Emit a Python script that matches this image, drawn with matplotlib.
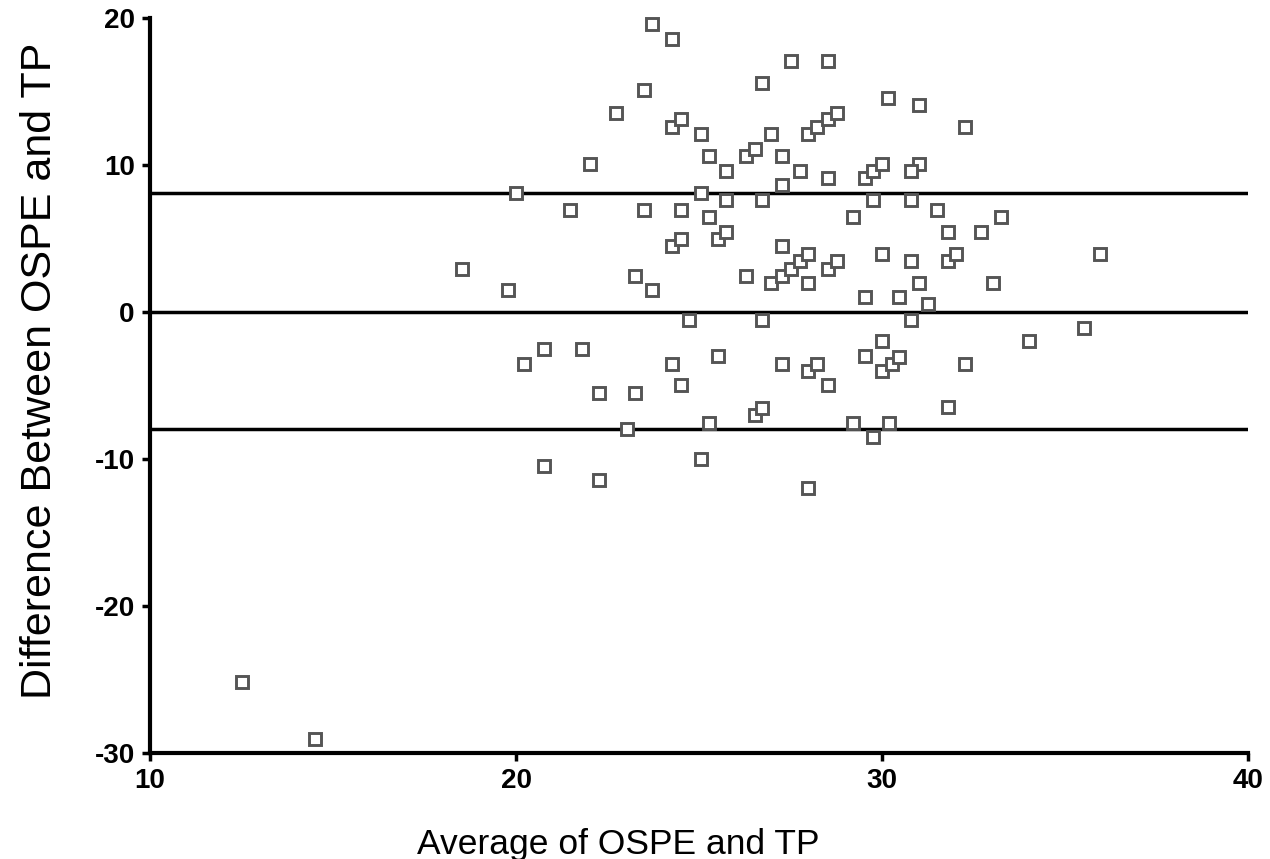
import matplotlib

matplotlib.use("Agg")
import matplotlib.pyplot as plt

plt.rcParams["axes.unicode_minus"] = False

# Bland-Altman style data: average of the two scores vs their difference
avg_scores = [
    23.72, 24.26, 27.51, 28.53, 26.73, 23.49, 30.16, 22.72, 24.26, 24.50,
    25.05, 26.97, 27.99, 28.22, 28.53, 28.77, 22.02, 25.28, 26.28, 26.52,
    27.28, 25.75, 27.75, 28.53, 29.54, 29.76, 30.00, 20.01, 25.05, 27.28,
    21.48, 23.49, 24.50, 25.75, 26.73, 29.76, 25.28, 29.22, 24.26, 24.50,
    25.52, 25.75, 27.28, 18.53, 23.26, 26.28, 26.97, 27.28, 27.51, 27.75,
    27.99, 28.53, 28.77, 27.99, 30.00, 19.79, 23.72, 29.54, 24.73, 26.73,
    30.00, 20.77, 21.80, 20.23, 24.26, 25.52, 27.28, 27.99, 28.22, 29.54,
    30.00, 30.26, 30.46, 24.50, 28.53, 22.27, 23.26, 26.52, 26.73, 25.28,
    29.22, 30.19, 23.03, 29.76, 20.77, 22.27, 25.05, 27.99, 32.27, 31.02,
    30.78, 30.78, 31.49, 33.25, 31.80, 32.70, 30.78, 31.80, 32.03, 35.96,
    31.02, 33.02, 30.46, 31.25, 30.78, 35.52, 34.02, 32.27, 31.80, 31.01,
    12.51, 14.51,
]
diff_scores = [
    19.57, 18.59, 17.07, 17.07, 15.60, 15.10, 14.58, 13.56, 12.60, 13.11,
    12.11, 12.11, 12.11, 12.60, 13.11, 13.56, 10.09, 10.61, 10.61, 11.09,
    10.61, 9.59, 9.59, 9.12, 9.12, 9.59, 10.09, 8.12, 8.12, 8.62,
    6.94, 6.94, 6.94, 7.62, 7.62, 7.62, 6.44, 6.44, 4.49, 4.99,
    4.99, 5.46, 4.49, 2.95, 2.45, 2.45, 1.95, 2.45, 2.95, 3.45,
    3.95, 2.95, 3.45, 1.95, 3.95, 1.50, 1.50, 1.00, -0.54, -0.54,
    -1.99, -2.50, -2.50, -3.52, -3.52, -2.99, -3.52, -4.01, -3.52, -2.99,
    -4.01, -3.54, -3.04, -4.99, -4.99, -5.49, -5.49, -7.03, -6.51, -7.53,
    -7.53, -7.53, -7.98, -8.48, -10.48, -11.45, -10.00, -11.99, 12.60, 10.07,
    9.61, 7.62, 6.94, 6.44, 5.42, 5.42, 3.45, 3.45, 3.95, 3.95,
    1.97, 1.97, 1.00, 0.52, -0.54, -1.07, -1.99, -3.54, -6.48, 14.08,
    -25.15, -29.05,
]

# mean difference and limits of agreement
mean_diff = 0.0
upper_loa = 8.1
lower_loa = -7.95

x_ticks = [10, 20, 30, 40]
y_ticks = [-30, -20, -10, 0, 10, 20]

fig = plt.figure(figsize=(12.7, 8.59), dpi=100)
ax = fig.add_axes([150 / 1270, 1 - 753 / 859, 1098 / 1270, 735 / 859])

for level in [upper_loa, mean_diff, lower_loa]:
    ax.axhline(level, color="black", lw=2.5, zorder=1)

ax.plot(avg_scores, diff_scores, ls="none", marker="s", ms=8.8,
        mfc="white", mec="#555555", mew=2.1, zorder=3, clip_on=False)

ax.set_xlim(10, 40)
ax.set_ylim(-30, 20)
ax.set_xticks(x_ticks)
ax.set_yticks(y_ticks)

for side in ["top", "right"]:
    ax.spines[side].set_visible(False)
for side in ["left", "bottom"]:
    ax.spines[side].set_linewidth(3)

ax.tick_params(direction="out", length=6, width=2.5)
ax.tick_params(axis="y", pad=5)
ax.tick_params(axis="x", pad=5)
for lab in ax.get_xticklabels() + ax.get_yticklabels():
    lab.set_fontfamily("Liberation Sans")
    lab.set_fontweight("bold")
    lab.set_fontsize(20)

ax.set_xlabel("Average of OSPE and TP", family="Liberation Sans",
              fontsize=25.5, va="center", ha="center")
ax.xaxis.set_label_coords(0.4262, -0.124)
ax.set_ylabel("Difference Between OSPE and TP", family="Liberation Sans",
              fontsize=31, va="center", ha="center")
ax.yaxis.set_label_coords(-0.1, 0.52)

fig.savefig("out.png", dpi=100)
